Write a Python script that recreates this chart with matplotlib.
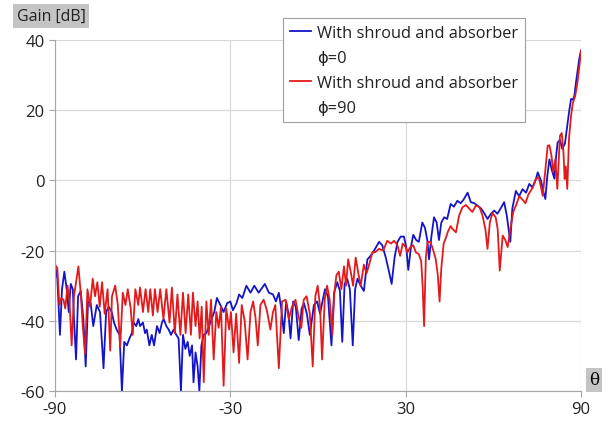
import matplotlib.pyplot as plt
from matplotlib.lines import Line2D

# Gain vs theta
theta_phi0 = [
    -90, -89.2, -88.3, -87.6, -86.8, -86.0, -85.3, -84.6, -83.9, -83.5,
    -82.8, -82.1, -81.2, -80.3, -79.5, -78.7, -77.8, -76.9, -75.7, -74.6,
    -73.4, -72.5, -71.6, -70.6, -69.8, -68.9, -67.9, -67.1, -66.3, -65.4,
    -64.5, -63.7, -63.1, -62.2, -61.5, -60.9, -59.9, -59.2, -58.6, -57.7,
    -56.9, -56.1, -55.1, -54.2, -53.4, -52.8, -51.9, -51.1, -50.3, -49.4,
    -48.5, -47.7, -46.9, -46.2, -45.4, -44.6, -43.9, -43.1, -42.6, -41.9,
    -41.2, -40.6, -39.9, -39.1, -38.2, -37.3, -36.4, -35.5, -34.6, -33.4,
    -32.3, -31.1, -30.0, -29.1, -27.9, -27.0, -25.9, -24.5, -23.1, -21.8,
    -20.3, -18.2, -16.8, -15.4, -14.4, -13.4, -12.5, -11.7, -10.9, -10.1,
    -9.4, -8.5, -7.6, -6.6, -5.6, -4.8, -3.8, -2.8, -1.4, -0.3,
    0.7, 1.4, 2.4, 3.4, 4.6, 5.5, 6.6, 7.5, 8.3, 9.1,
    10.0, 10.9, 11.9, 12.7, 13.5, 14.6, 15.7, 16.9, 18.0, 19.2,
    20.9, 22.0, 23.2, 24.3, 25.2, 26.2, 27.2, 28.3, 29.4, 30.2,
    30.9, 31.8, 32.6, 33.6, 34.5, 35.7, 36.6, 37.4, 38.0, 38.8,
    39.7, 40.6, 41.4, 42.2, 43.2, 44.2, 45.4, 46.5, 47.7, 48.8,
    49.8, 51.2, 52.3, 53.5, 54.6, 55.8, 57.0, 58.0, 59.2, 60.3,
    61.4, 62.5, 63.7, 64.6, 65.8, 66.5, 67.7, 68.8, 70.0, 71.2,
    72.3, 73.4, 74.6, 75.2, 76.3, 77.2, 77.8, 78.5, 79.2, 80.0,
    80.9, 81.5, 82.0, 82.8, 83.6, 84.5, 85.2, 86.0, 86.6, 87.2,
    87.7, 88.3, 88.8, 89.4, 90.0,
]
gain_phi0 = [
    -24, -28, -44, -31, -26, -31, -37.5, -29.5, -31, -39.5,
    -51, -33, -31.5, -39.5, -53, -34.5, -35, -41.5, -35.5, -37.5,
    -53.5, -37.5, -36, -37.5, -40.5, -42.5, -44, -60, -46, -47,
    -45, -43.5, -40.5, -41.5, -39.5, -41.5, -40.5, -43.5, -42.5, -47,
    -44, -47, -41.5, -43.5, -40.5, -39.5, -41.5, -42.5, -44, -42.5,
    -44, -45, -60, -44, -48, -46, -50, -47, -57.5, -49,
    -53, -60, -47, -44, -43.5, -41.5, -39.5, -37.5, -33.5, -35.5,
    -37.5, -35, -34.5, -37, -35, -32.5, -33.5, -30, -32, -30,
    -32, -29.5, -32, -32.5, -34.5, -32, -37, -43.5, -34.5, -38,
    -45, -34.5, -36, -45.5, -36.5, -35, -38, -44, -35.5, -34.5,
    -38, -35, -31, -33, -47, -32, -29, -31.5, -46, -29.5,
    -28, -31, -47, -31, -28, -30, -31.5, -22.5, -21.5, -20,
    -17.5, -18.5, -22, -26, -29.5, -22, -17.5, -16, -16, -19,
    -25.5, -19, -15.5, -17, -17.5, -12, -13.5, -17, -22.5, -16,
    -10.5, -12, -17, -12, -10.5, -11, -6.7, -7.5, -5.8, -6.5,
    -5.5, -3.5, -6.2, -6.5, -7.2, -8, -9.5, -11, -9.5, -8.6,
    -9.5, -8, -6.2, -10, -17.5, -8, -3, -4.5, -2.5, -3.5,
    -1, -2, 0.5, 2.3, 0, -3.5, -5.3, 1.5, 6, 3,
    0.5, 7, 10.8, 11.5, 9, 10.5, 15, 20, 23.2, 23,
    24, 28, 31, 34.6, 37,
]

theta_phi90 = [
    -90, -89.2, -88.5, -87.8, -87.1, -86.5, -85.7, -85.0, -84.3, -83.5,
    -82.0, -81.2, -80.5, -79.7, -78.9, -78.0, -77.1, -76.3, -75.5, -74.7,
    -73.9, -73.0, -72.0, -71.1, -70.5, -69.4, -68.5, -67.7, -66.8, -65.9,
    -65.1, -64.1, -63.4, -62.5, -61.5, -60.9, -59.9, -59.0, -58.1, -57.4,
    -56.5, -55.8, -54.9, -54.0, -52.9, -51.9, -50.8, -50.0, -49.0, -48.1,
    -47.1, -46.2, -45.3, -44.4, -43.5, -42.8, -41.9, -41.2, -40.5, -39.8,
    -39.1, -38.2, -37.4, -36.6, -35.7, -34.8, -34.0, -33.2, -32.3, -31.4,
    -30.4, -29.8, -28.9, -28.0, -27.0, -26.1, -25.1, -24.1, -23.1, -22.2,
    -21.4, -20.6, -19.7, -18.6, -17.5, -16.3, -15.4, -14.6, -13.4, -12.3,
    -11.1, -10.0, -8.9, -7.7, -6.6, -5.7, -4.9, -3.9, -2.8, -1.8,
    -0.9, -0.1, 0.7, 1.4, 2.3, 3.1, 4.0, 4.9, 5.6, 6.3,
    7.1, 8.0, 8.9, 9.6, 10.3, 11.2, 12.0, 12.9, 13.7, 14.6,
    15.7, 16.6, 17.5, 18.6, 19.5, 20.9, 22.3, 23.7, 25.0, 26.0,
    27.2, 28.1, 29.0, 30.0, 30.6, 31.6, 32.6, 33.5, 34.5, 35.3,
    35.8, 36.3, 36.9, 37.5, 38.4, 39.3, 40.3, 41.0, 41.6, 42.2,
    43.0, 43.7, 44.5, 45.4, 46.0, 47.2, 48.3, 49.4, 50.6, 51.7,
    52.8, 54.0, 55.2, 56.3, 57.3, 58.0, 58.8, 59.7, 60.8, 61.5,
    62.2, 63.2, 64.1, 64.9, 65.8, 66.8, 67.8, 68.9, 70.0, 71.0,
    72.0, 73.5, 74.6, 75.5, 76.2, 76.9, 77.8, 78.6, 79.2, 79.9,
    80.5, 81.2, 81.9, 82.8, 83.4, 84.0, 84.4, 84.8, 85.3, 85.9,
    86.6, 87.2, 88.0, 88.8, 89.5, 90.0,
]
gain_phi90 = [
    -24, -25, -35.5, -33.5, -34, -36.5, -30, -35, -47, -33,
    -24.5, -32, -41.5, -49.5, -31, -36, -28, -33, -29, -36,
    -29, -38, -31, -48.5, -33, -30, -35.5, -47.5, -32, -35.5,
    -31, -36.5, -44, -31, -35.5, -30.5, -37.5, -31, -37.5, -31,
    -38.5, -31, -37.5, -31, -39.5, -31, -40.5, -30.5, -43.5, -32.5,
    -44, -32, -43.5, -32.5, -44, -32, -41.5, -34.5, -45, -36,
    -57.5, -34.5, -44, -34, -51, -37.5, -42, -36, -58.5, -36.5,
    -42.5, -37.5, -49, -38, -52, -35.5, -40, -51, -37.5, -34.5,
    -39, -47, -35.5, -34, -37, -42.5, -37.5, -35.5, -53.5, -34.5,
    -34, -39.5, -36, -34, -39, -42, -34, -33, -38, -53,
    -33, -30, -36, -51, -34, -30, -34, -44, -32, -27,
    -26, -31, -24.5, -30, -22.5, -26, -30, -22, -26, -30,
    -24, -26.5, -24, -20.5, -20.5, -19.5, -20, -17.2, -18, -17.2,
    -18.5, -21.5, -18, -19, -20.5, -19, -18.5, -20.5, -21, -23,
    -30, -41.5, -22, -17.5, -17.5, -19.5, -22.5, -27, -34.5, -25,
    -18, -16.5, -14.5, -13, -13.8, -14.8, -10, -7.7, -7, -8,
    -9, -7.2, -7.5, -10, -14, -19.5, -12, -9.3, -10.5, -14,
    -25.7, -15.7, -17, -19, -14, -9, -7, -4.5, -5.5, -6.5,
    -4, -2, 0.4, 1, -1.5, -4.4, 3, 9.9, 10, 7,
    2.3, 6, -2.4, 12.7, 13.5, 8, 0.4, 4, -2.4, 12,
    18.4, 22, 24, 28, 33, 37,
]

label_phi0 = 'With shroud and absorber'
label_phi90 = 'With shroud and absorber'
x_ticks = [-90, -30, 30, 90]
y_ticks = [-60, -40, -20, 0, 20, 40]

plt.rcParams['font.family'] = ['Open Sans', 'DejaVu Sans']
plt.rcParams['font.size'] = 11.5
plt.rcParams['axes.unicode_minus'] = False

fig = plt.figure(figsize=(6.09, 4.27), dpi=100)
ax = fig.add_axes([55 / 609, 1 - 392 / 427, 526 / 609, 351 / 427])

ax.plot(theta_phi0, gain_phi0, color='#1414c8', lw=1.3)
ax.plot(theta_phi90, gain_phi90, color='#e31a1c', lw=1.3)

ax.set_xlim(-90, 90)
ax.set_ylim(-60, 40)
ax.set_xticks(x_ticks)
ax.set_yticks(y_ticks)
ax.grid(True, color='#d9d9d9', lw=0.9)
ax.set_axisbelow(True)
for side in ['top', 'right']:
    ax.spines[side].set_visible(False)
for side in ['left', 'bottom']:
    ax.spines[side].set_color('#a6a6a6')
ax.tick_params(colors='#a6a6a6', labelcolor='#222222', length=4, labelsize=12)

# legend: label lines as separate rows, the phi rows get no handle
blank = Line2D([], [], color='none')
handles = [Line2D([], [], color='#1414c8', lw=1.3), blank,
           Line2D([], [], color='#e31a1c', lw=1.3), blank]
labels = [label_phi0, 'ϕ=0', label_phi90, 'ϕ=90']
leg = fig.legend(handles, labels, loc='upper left',
                 bbox_to_anchor=(283 / 609, 1 - 19 / 427),
                 fancybox=False, edgecolor='#a0a0a0', framealpha=1,
                 handlelength=1.3, handletextpad=0.4, labelspacing=0.55,
                 borderpad=0.4, borderaxespad=0, fontsize=11.8)
leg.get_frame().set_linewidth(0.8)
for t in leg.get_texts():
    t.set_color('#222222')

fig.text(17 / 609, 1 - 17 / 427, 'Gain [dB]', ha='left', va='center',
         fontsize=11.5, color='#222222',
         bbox=dict(boxstyle='square,pad=0.22', fc='#c4c4c4', ec='none'))
fig.text(594 / 609, 1 - 381 / 427, 'θ', ha='center', va='center',
         fontsize=12, family=['DejaVu Serif'],
         bbox=dict(boxstyle='square,pad=0.2', fc='#c4c4c4', ec='none'))

fig.savefig('out.png', dpi=100)
